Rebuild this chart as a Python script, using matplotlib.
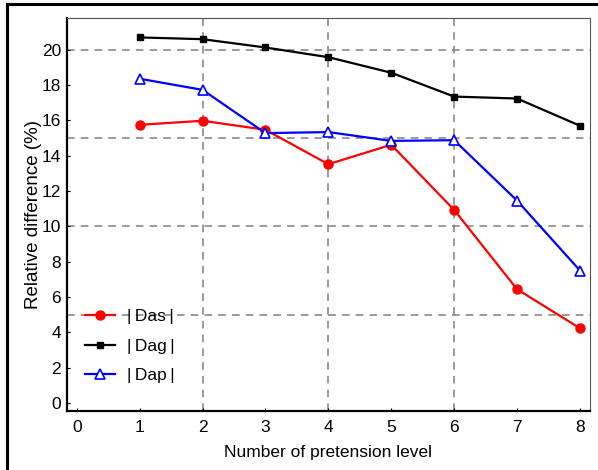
import numpy as np
import matplotlib.pyplot as plt
from matplotlib.patches import Rectangle

plt.rcParams['font.family'] = ['Liberation Sans', 'DejaVu Sans']
plt.rcParams['font.size'] = 12.5

# donnees
niveaux = [1, 2, 3, 4, 5, 6, 7, 8]
das = [15.75, 15.98, 15.47, 13.52, 14.62, 10.93, 6.44, 4.23]
dag = [20.7, 20.6, 20.13, 19.58, 18.7, 17.35, 17.24, 15.7]
dap = [18.36, 17.73, 15.28, 15.34, 14.84, 14.88, 11.46, 7.5]
noms = ['|\u2009Das\u2009|', '|\u2009Dag\u2009|', '|\u2009Dap\u2009|']

grille_x = [2, 4, 6]
grille_y = [5, 10, 15, 20]

fig = plt.figure(figsize=(5.98, 4.70), dpi=100)
ax = fig.add_axes([66.7/598, 1-410.7/470, (590-66.7)/598, (410.7-18)/470])

# cadre exterieur
fig.patches.append(Rectangle((7/598, -0.05), 1.2, (470-4)/470 + 0.05,
                             transform=fig.transFigure, fill=False,
                             edgecolor='black', linewidth=2.2))

for gx in grille_x:
    ax.axvline(gx, color='gray', ls=(0, (5, 4)), lw=1.1, zorder=0)
for gy in grille_y:
    ax.axhline(gy, color='gray', ls=(0, (5, 4)), lw=1.1, zorder=0)

ax.plot(niveaux, das, '-o', color='red', lw=1.6, ms=6.5, label=noms[0])
ax.plot(niveaux, dag, '-s', color='black', lw=1.6, ms=4.2, label=noms[1])
ax.plot(niveaux, dap, '-^', color='blue', lw=1.6, ms=7, mfc='white',
        mew=1.2, label=noms[2])

ax.set_xlim(-0.16, 8.16)
ax.set_ylim(-0.44, 21.8)
ax.set_xticks(range(0, 9))
ax.set_yticks(range(0, 21, 2))
ax.tick_params(direction='in', length=2, width=0.8)
ax.tick_params(axis='y', pad=4)
ax.tick_params(axis='x', pad=7)

ax.spines['left'].set_linewidth(1.6)
ax.spines['bottom'].set_linewidth(1.6)
ax.spines['top'].set_color('#555555')
ax.spines['right'].set_color('#555555')

ax.set_xlabel('Number of pretension level', labelpad=7)
ax.set_ylabel('Relative difference (%)', fontsize=13.5, labelpad=0)

ax.legend(loc='upper left', bbox_to_anchor=(0.005, 0.30), frameon=False,
          handlelength=1.75, labelspacing=0.85, handletextpad=0.65,
          fontsize=12.5)

plt.savefig('out.png', dpi=100)
